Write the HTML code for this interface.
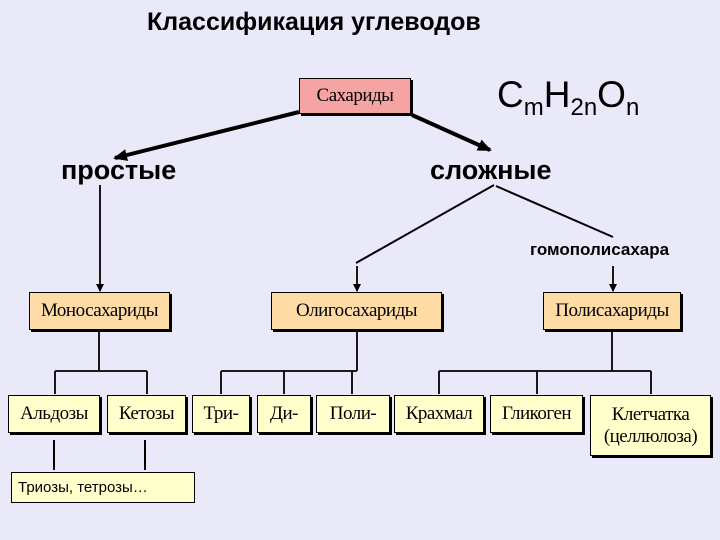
<!DOCTYPE html>
<html><head><meta charset="utf-8"><style>
body{margin:0;width:720px;height:540px;background:#E9E9F9;position:relative;overflow:hidden;font-family:"Liberation Sans",sans-serif}
.b{position:absolute;box-sizing:border-box;border:1.5px solid #000;box-shadow:2px 2px 0 #000;display:flex;align-items:center;justify-content:center;font-family:"Liberation Serif",serif;font-size:19px;text-align:center;line-height:22px;letter-spacing:-0.5px}
.p{background:#FFDBA6}.y{background:#FFFFCC}
.t{position:absolute;font-weight:bold;white-space:nowrap}
.s{font-size:24px;vertical-align:-8px}
</style></head><body>
<div class="t" style="left:147px;top:8px;font-size:25px">Классификация углеводов</div>
<div class="t" style="left:497px;top:74px;font-size:37px;font-weight:normal">C<span class="s">m</span>H<span class="s">2n</span>O<span class="s">n</span></div>
<div class="t" style="left:61px;top:155px;font-size:27px">простые</div>
<div class="t" style="left:430px;top:155px;font-size:27px">сложные</div>
<div class="t" style="left:530px;top:240px;font-size:17px">гомополисахара</div>
<svg style="position:absolute;left:0;top:0" width="720" height="540">
<defs><marker id="a" markerWidth="8" markerHeight="8" refX="7" refY="4" orient="auto" markerUnits="userSpaceOnUse"><path d="M0,0L8,4L0,8z"/></marker>
<marker id="A" markerWidth="14" markerHeight="12" refX="12" refY="6" orient="auto" markerUnits="userSpaceOnUse"><path d="M0,0L14,6L0,12z"/></marker></defs>
<g stroke="#000" fill="none">
<line x1="299" y1="112" x2="115" y2="158" stroke-width="4" marker-end="url(#A)"/>
<line x1="412" y1="115" x2="490" y2="150" stroke-width="4" marker-end="url(#A)"/>
<g stroke-width="2">
<line x1="494" y1="185" x2="356" y2="263"/>
<line x1="496" y1="186" x2="613" y2="237"/>
</g>
<g stroke-width="1.8">
<line x1="100" y1="185" x2="100" y2="291" marker-end="url(#a)"/>
<line x1="357" y1="266" x2="357" y2="291" marker-end="url(#a)"/>
<line x1="613" y1="266" x2="613" y2="291" marker-end="url(#a)"/>
<path d="M99 332V371M55 371H147M55 371V394M147 371V394"/>
<path d="M357 332V371M221 371H357M221 371V394M284 371V394M352 371V394"/>
<path d="M612 332V371M439 371H651M439 371V394M537 371V394M651 371V394"/>
</g>
<g stroke-width="2"><path d="M54 440V470M145 440V470"/></g>
</g></svg>
<div class="b" style="left:299px;top:78px;width:112px;height:36px;background:#F5A3A3">Сахариды</div>
<div class="b p" style="left:29px;top:292px;width:141px;height:38px">Моносахариды</div>
<div class="b p" style="left:271px;top:292px;width:171px;height:38px">Олигосахариды</div>
<div class="b p" style="left:543px;top:292px;width:138px;height:38px">Полисахариды</div>
<div class="b y" style="left:8px;top:395px;width:92px;height:38px">Альдозы</div>
<div class="b y" style="left:107px;top:395px;width:79px;height:38px">Кетозы</div>
<div class="b y" style="left:192px;top:395px;width:58px;height:38px">Три-</div>
<div class="b y" style="left:257px;top:395px;width:54px;height:38px">Ди-</div>
<div class="b y" style="left:316px;top:395px;width:74px;height:38px">Поли-</div>
<div class="b y" style="left:394px;top:395px;width:90px;height:38px">Крахмал</div>
<div class="b y" style="left:490px;top:395px;width:93px;height:38px">Гликоген</div>
<div class="b y" style="left:590px;top:395px;width:121px;height:61px">Клетчатка<br>(целлюлоза)</div>
<div class="b y" style="left:11px;top:472px;width:184px;height:31px;border-width:1px;box-shadow:none;justify-content:flex-start;padding-left:6px;font-family:'Liberation Sans',sans-serif;font-size:15px;letter-spacing:0">Триозы, тетрозы…</div>
</body></html>
